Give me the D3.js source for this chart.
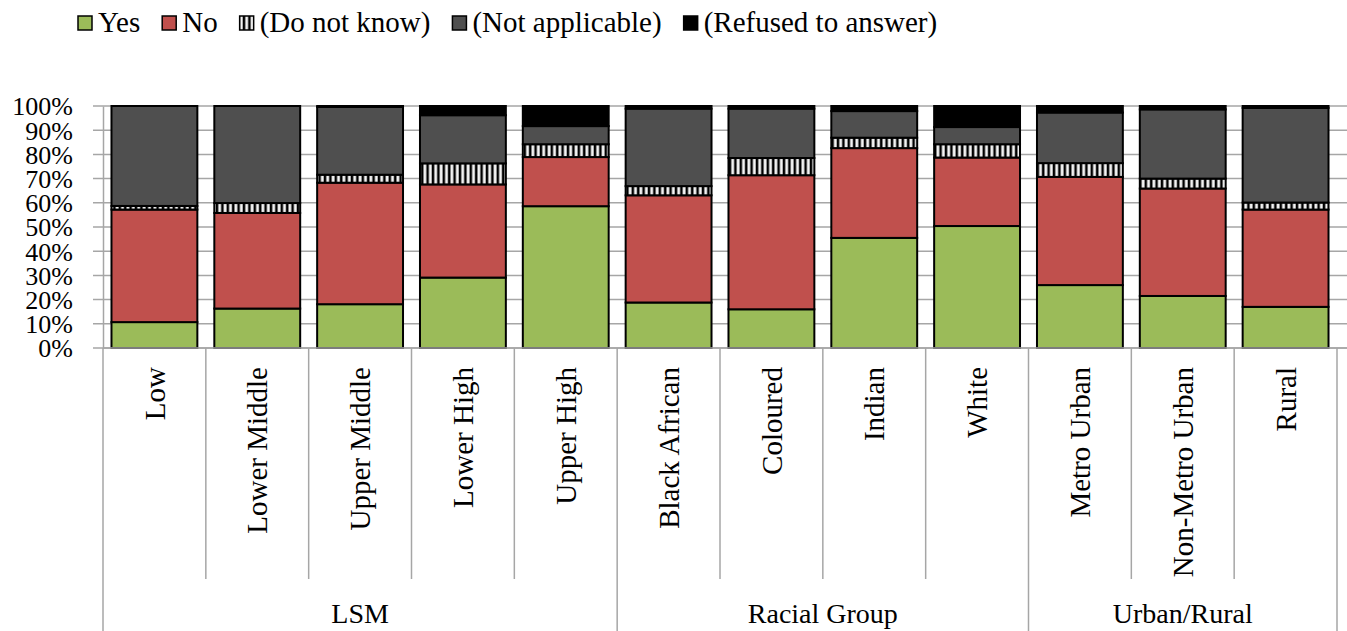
<!DOCTYPE html>
<html>
<head>
<meta charset="utf-8">
<script src="https://cdn.jsdelivr.net/npm/d3@7"></script>
<style>
    body { margin: 0; background: #fff; }
    text { font-family: "Liberation Serif", "Times New Roman", serif; fill: #000; }
</style>
</head>
<body>
<div id="myfigure"></div>
<script>
// categories and their groups
var categories = ["Low", "Lower Middle", "Upper Middle", "Lower High", "Upper High",
    "Black African", "Coloured", "Indian", "White",
    "Metro Urban", "Non-Metro Urban", "Rural"];
var groupNames = ["LSM", "Racial Group", "Urban/Rural"];
var groupOf = [0, 0, 0, 0, 0, 1, 1, 1, 1, 2, 2, 2];

// series values (percent)
var seriesNames = ["Yes", "No", "(Do not know)", "(Not applicable)", "(Refused to answer)"];
var yes           = [10.7, 16.3, 18.1, 29.1, 58.6, 18.8, 16.0, 45.5, 50.4, 26.0, 21.5, 17.0];
var no            = [46.5, 39.5, 50.2, 38.5, 20.3, 44.3, 55.4, 37.1, 28.3, 44.7, 44.4, 40.2];
var dontKnow      = [ 1.5,  4.1,  3.3,  8.7,  5.3,  3.8,  7.1,  4.3,  5.5,  5.7,  4.1,  2.9];
var notApplicable = [41.3, 40.1, 28.0, 19.9,  7.5, 32.0, 20.4, 11.0,  7.1, 20.9, 28.6, 39.1];
var refused       = [ 0.0,  0.0,  0.4,  3.8,  8.3,  1.1,  1.1,  2.1,  8.7,  2.7,  1.4,  0.8];

var yTicks = [0, 10, 20, 30, 40, 50, 60, 70, 80, 90, 100];

var colors = ["#9BBB59", "#C0504D", "url(#dkPattern)", "#4F4F4F", "#000000"];

function drawChart() {
    var width = 1347, height = 631;
    var margin = { left: 103, right: 1337, top: 106, bottom: 348 };

    var table = categories.map(function(c, i) {
        return { cat: c, s0: yes[i], s1: no[i], s2: dontKnow[i], s3: notApplicable[i], s4: refused[i] };
    });
    var stacked = d3.stack().keys(["s0", "s1", "s2", "s3", "s4"])(table);

    var xScale = d3.scaleBand().domain(categories).range([margin.left, margin.right])
        .paddingInner(0.165).paddingOuter(0.0825);
    var yScale = d3.scaleLinear().domain([0, 100]).range([margin.bottom, margin.top]);

    var svg = d3.select("#myfigure").append("svg")
        .attr("width", width).attr("height", height);

    // striped pattern for "do not know"
    var pat = svg.append("defs").append("pattern")
        .attr("id", "dkPattern").attr("patternUnits", "userSpaceOnUse")
        .attr("width", 5.4).attr("height", 10);
    pat.append("rect").attr("width", 5.4).attr("height", 10).attr("fill", "#fff");
    pat.append("rect").attr("x", 0).attr("width", 1.8).attr("height", 10).attr("fill", "#000");
    pat.append("rect").attr("x", 1.8).attr("width", 1).attr("height", 10).attr("fill", "#777");
    pat.append("rect").attr("x", 4.4).attr("width", 1).attr("height", 10).attr("fill", "#aaa");

    // gridlines
    svg.append("g")
        .selectAll("line").data(yTicks).enter().append("line")
        .attr("x1", margin.left - 10).attr("x2", width)
        .attr("y1", function(d) { return yScale(d); })
        .attr("y2", function(d) { return yScale(d); })
        .attr("stroke", "#A6A6A6").attr("stroke-width", 1.5);

    // y axis
    var yAxis = d3.axisLeft(yScale).tickValues(yTicks)
        .tickFormat(function(d) { return d + "%"; }).tickSize(0).tickPadding(30);
    var yg = svg.append("g").attr("transform", "translate(" + margin.left + ",0)").call(yAxis);
    yg.attr("font-family", null).attr("font-size", null);
    yg.select(".domain").attr("stroke", "#A6A6A6").attr("stroke-width", 1.5);
    yg.selectAll("text")
        .style("font-family", "'Liberation Serif', 'Times New Roman', serif")
        .style("font-size", "26px").attr("dy", "0.34em");

    // bars
    svg.append("g").selectAll("g").data(stacked).enter().append("g")
        .attr("fill", function(d, i) { return colors[i]; })
        .selectAll("rect").data(function(d) { return d.filter(function(p) { return p[1] - p[0] > 0; }); })
        .enter().append("rect")
        .attr("x", function(d) { return xScale(d.data.cat); })
        .attr("width", xScale.bandwidth())
        .attr("y", function(d) { return yScale(d[1]); })
        .attr("height", function(d) { return yScale(d[0]) - yScale(d[1]); })
        .attr("stroke", "#000").attr("stroke-width", 2);

    // category axis (two levels)
    var step = xScale.step();
    var bounds = d3.range(categories.length + 1).map(function(i) { return margin.left + i * step; });
    var groupBounds = [0];
    groupOf.forEach(function(g, i) { if (i > 0 && g !== groupOf[i - 1]) groupBounds.push(i); });
    groupBounds.push(categories.length);

    svg.append("line").attr("x1", margin.left).attr("x2", width)
        .attr("y1", margin.bottom).attr("y2", margin.bottom)
        .attr("stroke", "#A6A6A6").attr("stroke-width", 1.5);

    svg.append("g").selectAll("line").data(bounds).enter().append("line")
        .attr("x1", function(d) { return d; }).attr("x2", function(d) { return d; })
        .attr("y1", margin.bottom)
        .attr("y2", function(d, i) { return groupBounds.indexOf(i) >= 0 ? height : 579; })
        .attr("stroke", "#A6A6A6").attr("stroke-width", 1.5);

    svg.append("g").selectAll("text").data(categories).enter().append("text")
        .attr("transform", function(d) {
            return "translate(" + (xScale(d) + xScale.bandwidth() / 2) + ",367) rotate(-90)";
        })
        .attr("dy", "0.35em")
        .style("text-anchor", "end")
        .style("font-size", "29px")
        .text(function(d) { return d; });

    svg.append("g").selectAll("text").data(groupNames).enter().append("text")
        .attr("x", function(d, i) { return (bounds[groupBounds[i]] + bounds[groupBounds[i + 1]]) / 2; })
        .attr("y", 623)
        .style("text-anchor", "middle")
        .style("font-size", "28px")
        .text(function(d) { return d; });

    // legend
    var legend = svg.append("g");
    var lx = 78;
    seriesNames.forEach(function(name, i) {
        legend.append("rect")
            .attr("x", lx).attr("y", 16).attr("width", 14).attr("height", 14)
            .attr("fill", colors[i]).attr("stroke", "#000").attr("stroke-width", 1.5);
        var t = legend.append("text")
            .attr("x", lx + 20).attr("y", 32)
            .style("font-size", "29px")
            .text(name);
        lx = lx + 20 + t.node().getComputedTextLength() + 22;
    });
}

drawChart();
</script>
</body>
</html>
